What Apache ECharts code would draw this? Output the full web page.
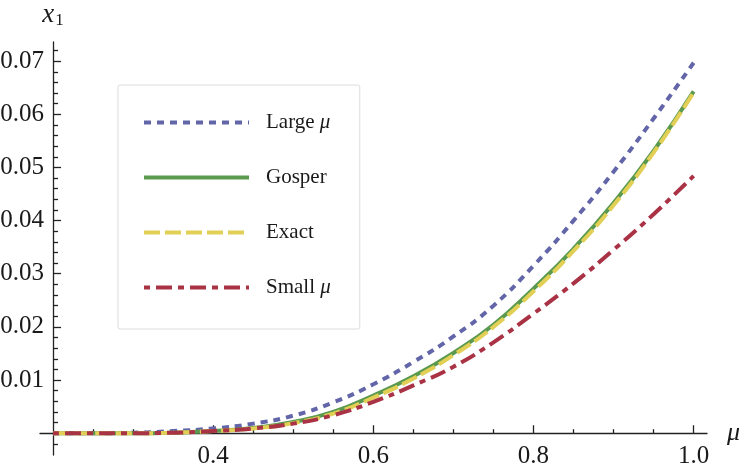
<!DOCTYPE html>
<html>
<head>
<meta charset="utf-8">
<title>x1 vs mu</title>
<script src="https://cdn.jsdelivr.net/npm/echarts@6/dist/echarts.min.js"></script>
<style>
    html, body { margin: 0; padding: 0; background: #fff; }
    #main { width: 747px; height: 470px; }
</style>
</head>
<body>
<div id="main"></div>
<script>
/** mu values (x axis) */
var mu = [0.20, 0.25, 0.30, 0.35, 0.40, 0.45, 0.50, 0.55, 0.60, 0.65, 0.70, 0.75, 0.80, 0.85, 0.90, 0.95, 1.00];
/** series values */
var largeMu = [0, 0, 0.0001, 0.0004, 0.0009, 0.0018, 0.0033, 0.0058, 0.0092, 0.0134, 0.0182, 0.0240, 0.0315, 0.0400, 0.0492, 0.0592, 0.0697];
var gosper  = [0, 0, 0, 0.0001, 0.0004, 0.0010, 0.0021, 0.0040, 0.0071, 0.0107, 0.0151, 0.0204, 0.0272, 0.0347, 0.0433, 0.0531, 0.0643];
var exact   = [0, 0, 0, 0.0001, 0.0004, 0.0009, 0.0019, 0.0037, 0.0067, 0.0103, 0.0147, 0.0200, 0.0267, 0.0343, 0.0429, 0.0528, 0.0641];
var smallMu = [0, 0, 0, 0.0001, 0.0004, 0.0009, 0.0018, 0.0034, 0.0059, 0.0090, 0.0125, 0.0171, 0.0225, 0.0282, 0.0345, 0.0412, 0.0484];
/** tick labels / tick positions */
var xMajorTicks = [0.4, 0.6, 0.8, 1.0];
var xMinorTicks = [0.25, 0.3, 0.35, 0.45, 0.5, 0.55, 0.65, 0.7, 0.75, 0.85, 0.9, 0.95];
var yMajorTicks = [0.01, 0.02, 0.03, 0.04, 0.05, 0.06, 0.07];
var yMinorTicks = [-0.002, 0.002, 0.004, 0.006, 0.008, 0.012, 0.014, 0.016, 0.018, 0.022, 0.024, 0.026, 0.028,
                   0.032, 0.034, 0.036, 0.038, 0.042, 0.044, 0.046, 0.048, 0.052, 0.054, 0.056, 0.058,
                   0.062, 0.064, 0.066, 0.068, 0.072];

// the vertical axis sits at mu = 0.2, so x is drawn shifted by that origin
var X0 = 0.2;
var SERIF = '"Liberation Serif", "DejaVu Serif", serif';

function shift(arr) {
    var out = [];
    for (var i = 0, len = arr.length; i < len; i++) {
        out.push(arr[i] - X0);
    }
    return out;
}
function pairs(ys) {
    var out = [];
    for (var i = 0, len = mu.length; i < len; i++) {
        out.push([mu[i] - X0, ys[i]]);
    }
    return out;
}
function lineSeries(name, ys, color, dash) {
    return {
        name: name,
        type: 'line',
        data: pairs(ys),
        smooth: true,
        symbol: 'none',
        lineStyle: { color: color, width: 4, type: dash, cap: 'butt' },
        itemStyle: { color: color }
    };
}

var axisLineStyle = { color: '#222', width: 1.3 };
var xRange = { min: -0.0163, max: 0.8167 };
var yRange = { min: -0.0041, max: 0.0736 };
var grid = { left: 40, right: 40, top: 42, bottom: 15 };
var W = 747, H = 470;

// second (major tick / label) axes don't go onZero, so move them there by offset
var xZeroOffset = -(0 - yRange.min) / (yRange.max - yRange.min) * (H - grid.top - grid.bottom);
var yZeroOffset = -(0 - xRange.min) / (xRange.max - xRange.min) * (W - grid.left - grid.right);

var chart = echarts.init(document.getElementById('main'));
var option = {
    backgroundColor: '#fff',
    animation: false,
    grid: { left: grid.left, right: grid.right, top: grid.top, bottom: grid.bottom, outerBoundsMode: 'none', containLabel: false },
    legend: {
        orient: 'vertical',
        left: 118,
        top: 85,
        padding: [27, 29, 31, 24],
        itemWidth: 105,
        itemHeight: 14,
        itemGap: 34,
        backgroundColor: '#fff',
        borderColor: '#dcdcdc',
        borderWidth: 1,
        borderRadius: 2,
        itemStyle: { color: 'rgba(0,0,0,0)', opacity: 0, borderWidth: 0 },
        lineStyle: { width: 4, cap: 'butt' },
        data: ['Large μ', 'Gosper', 'Exact', 'Small μ'],
        formatter: function (name) {
            return name.replace('μ', '{i|μ}');
        },
        textStyle: {
            fontFamily: SERIF,
            fontSize: 21,
            color: '#1a1a1a',
            padding: [0, 0, 0, 12],
            rich: {
                i: { fontFamily: SERIF, fontSize: 21, fontStyle: 'italic', color: '#1a1a1a' }
            }
        }
    },
    xAxis: [
        {
            type: 'value', min: xRange.min, max: xRange.max, position: 'bottom',
            name: 'μ', nameLocation: 'end', nameGap: 20,
            nameTextStyle: { fontFamily: SERIF, fontSize: 26, fontStyle: 'italic', color: '#1a1a1a', verticalAlign: 'middle' },
            axisLine: { onZero: true, lineStyle: axisLineStyle },
            axisTick: { show: true, inside: true, length: 4, customValues: shift(xMinorTicks), lineStyle: axisLineStyle },
            axisLabel: { show: false },
            splitLine: { show: false }
        },
        {
            type: 'value', min: xRange.min, max: xRange.max, position: 'bottom',
            offset: xZeroOffset,
            axisLine: { show: false, onZero: false },
            axisTick: { show: true, inside: true, length: 8, customValues: shift(xMajorTicks), lineStyle: axisLineStyle },
            axisLabel: {
                show: true, margin: 11, customValues: shift(xMajorTicks),
                fontFamily: SERIF, fontSize: 25, color: '#1a1a1a',
                formatter: function (v) { return (v + X0).toFixed(1); }
            },
            splitLine: { show: false }
        }
    ],
    yAxis: [
        {
            type: 'value', min: yRange.min, max: yRange.max, position: 'left',
            name: '{i|x}{s|1}', nameLocation: 'end', nameGap: 13,
            nameTextStyle: {
                rich: {
                    i: { fontFamily: SERIF, fontSize: 27, fontStyle: 'italic', color: '#1a1a1a' },
                    s: { fontFamily: SERIF, fontSize: 17, color: '#1a1a1a', padding: [12, 0, 0, 1] }
                }
            },
            axisLine: { onZero: true, lineStyle: axisLineStyle },
            axisTick: { show: true, inside: true, length: 5, customValues: yMinorTicks, lineStyle: axisLineStyle },
            axisLabel: { show: false },
            splitLine: { show: false }
        },
        {
            type: 'value', min: yRange.min, max: yRange.max, position: 'left',
            offset: yZeroOffset,
            axisLine: { show: false, onZero: false },
            axisTick: { show: true, inside: true, length: 8, customValues: yMajorTicks, lineStyle: axisLineStyle },
            axisLabel: {
                show: true, margin: 9, customValues: yMajorTicks,
                fontFamily: SERIF, fontSize: 25, color: '#1a1a1a',
                formatter: function (v) { return v.toFixed(2); }
            },
            splitLine: { show: false }
        }
    ],
    series: [
        lineSeries('Large μ', largeMu, '#6266a8', [7, 6]),
        lineSeries('Gosper', gosper, '#5b9a4e', 'solid'),
        lineSeries('Exact', exact, '#e2cf55', [16, 5]),
        lineSeries('Small μ', smallMu, '#a93245', [6, 6, 16, 6])
    ]
};
chart.setOption(option);
</script>
</body>
</html>
